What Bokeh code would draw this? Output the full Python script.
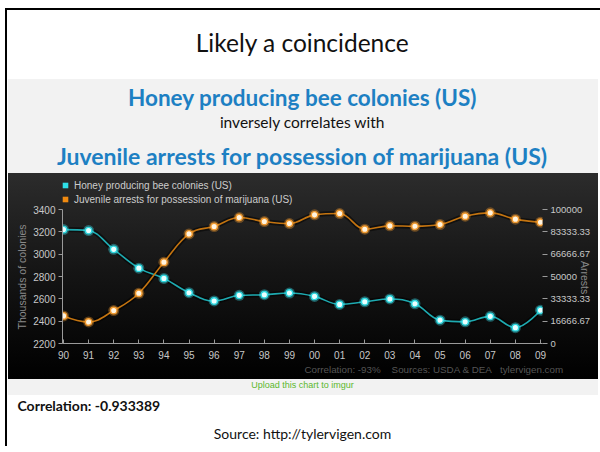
import math
from bokeh.plotting import figure
from bokeh.models import (Range1d, LinearAxis, FixedTicker, ColumnDataSource, Legend,
                          LegendItem, Title)
from bokeh.embed import file_html
from bokeh.resources import INLINE

# ---------------- data ----------------
years = ["90", "91", "92", "93", "94", "95", "96", "97", "98", "99",
         "00", "01", "02", "03", "04", "05", "06", "07", "08", "09"]
honey_colonies = [3220, 3211, 3043, 2875, 2783, 2655, 2581, 2631, 2637, 2652,
                  2622, 2550, 2574, 2599, 2556, 2409, 2394, 2443, 2342, 2498]
juvenile_arrests = [20600, 16100, 24600, 37500, 60700, 81800, 87300, 94000, 91000, 89500,
                    96000, 97000, 85300, 87800, 87500, 88800, 95000, 97500, 92800, 90500]
left_ticks = [2200, 2400, 2600, 2800, 3000, 3200, 3400]
right_ticks = [0, 16666.67, 33333.33, 50000, 66666.67, 83333.33, 100000]
right_tick_labels = ["0", "16666.67", "33333.33", "50000", "66666.67", "83333.33", "100000"]

slide_title = "Likely a coincidence"
chart_title_1 = "Honey producing bee colonies (US)"
chart_title_mid = "inversely correlates with"
chart_title_2 = "Juvenile arrests for possession of marijuana (US)"
left_axis_title = "Thousands of colonies"
right_axis_title = "Arrests"
chart_footer = "Correlation: -93%\u00a0\u00a0\u00a0 Sources: USDA & DEA\u00a0\u00a0 tylervigen.com"
upload_text = "Upload this chart to imgur"
correlation_text = "Correlation: -0.933389"
source_text = "Source: http://tylervigen.com"

CH = "Liberation Sans"
SLIDE = "Lato"


def spline_segments(xs, ys):
    """Highcharts-style spline control points, computed from the data."""
    n = len(xs)
    lcx, lcy, rcx, rcy = list(xs), list(ys), list(xs), list(ys)
    sm = 1.5
    d = sm + 1
    for i in range(1, n - 1):
        px, py = xs[i], ys[i]
        ax, ay = xs[i - 1], ys[i - 1]
        bx, by = xs[i + 1], ys[i + 1]
        l_x, l_y = (sm * px + ax) / d, (sm * py + ay) / d
        r_x, r_y = (sm * px + bx) / d, (sm * py + by) / d
        if r_x != l_x:
            corr = ((r_y - l_y) * (r_x - px)) / (r_x - l_x) + py - r_y
            l_y += corr
            r_y += corr
        if l_y > max(ay, py):
            l_y = max(ay, py); r_y = 2 * py - l_y
        elif l_y < min(ay, py):
            l_y = min(ay, py); r_y = 2 * py - l_y
        if r_y > max(py, by):
            r_y = max(py, by); l_y = 2 * py - r_y
        elif r_y < min(py, by):
            r_y = min(py, by); l_y = 2 * py - r_y
        lcx[i], lcy[i], rcx[i], rcy[i] = l_x, l_y, r_x, r_y
    return dict(x0=xs[:-1], y0=ys[:-1], x1=xs[1:], y1=ys[1:],
                cx0=rcx[:-1], cy0=rcy[:-1], cx1=lcx[1:], cy1=lcy[1:])


# ---------------- figure geometry ----------------
FIG_W, FIG_H = 600, 446
F_LEFT, F_RIGHT, F_TOP, F_BOTTOM = 62, 543, 178, 343   # frame edges in px
AXIS_TOP = 209                                          # px of 3400 / 100000
px_per_unit_l = (F_BOTTOM - AXIS_TOP) / (left_ticks[-1] - left_ticks[0])
px_per_unit_r = (F_BOTTOM - AXIS_TOP) / (right_ticks[-1] - right_ticks[0])
y_top_l = left_ticks[-1] + (AXIS_TOP - F_TOP) / px_per_unit_l
y_top_r = right_ticks[-1] + (AXIS_TOP - F_TOP) / px_per_unit_r

xi = list(range(len(years)))
p = figure(width=FIG_W, height=FIG_H, output_backend="svg", toolbar_location=None,
           x_range=Range1d(-0.04, 19.08), y_range=Range1d(left_ticks[0], y_top_l),
           min_border_left=F_LEFT, min_border_right=FIG_W - F_RIGHT,
           min_border_top=F_TOP, min_border_bottom=FIG_H - F_BOTTOM,
           background_fill_alpha=0, border_fill_alpha=0, outline_line_color=None)
p.title = None
p.styles = {
    "background": ", ".join([
        "linear-gradient(#000000, #000000) 5px 8px / 2px 438px no-repeat",
        "linear-gradient(#000000, #000000) 5px 8px / 595px 2px no-repeat",
        "linear-gradient(to bottom, #2c2c2c 0%, #161616 45%, #000000 100%) 8px 173px / 590px 206px no-repeat",
        "linear-gradient(#f2f2f2, #f2f2f2) 8px 79px / 590px 316px no-repeat",
        "#ffffff",
    ])
}
p.grid.visible = False
p.extra_y_ranges = {"arrests": Range1d(right_ticks[0], y_top_r)}

honey_src = ColumnDataSource(spline_segments(xi, honey_colonies))
arr_src = ColumnDataSource(spline_segments(xi, juvenile_arrests))
pts = ColumnDataSource(dict(x=xi, honey=honey_colonies, arrests=juvenile_arrests))

cyan_line = "#1eaab0"
cyan_glow = "#3ff0ff"
orange_line = "#c47410"
orange_glow = "#ffa12e"

bz = dict(x0="x0", y0="y0", x1="x1", y1="y1", cx0="cx0", cy0="cy0", cx1="cx1", cy1="cy1")
p.bezier(source=honey_src, line_color="black", line_width=5, line_alpha=0.5, **bz)
p.bezier(source=arr_src, line_color="black", line_width=5, line_alpha=0.5,
         y_range_name="arrests", **bz)
p.bezier(source=honey_src, line_color=cyan_line, line_width=1.6, **bz)
p.bezier(source=arr_src, line_color=orange_line, line_width=1.6, y_range_name="arrests", **bz)
p.scatter(x="x", y="honey", source=pts, size=11, fill_color=cyan_glow, fill_alpha=0.35,
          line_color=None)
p.scatter(x="x", y="honey", source=pts, size=6.5, fill_color="#eaffff",
          line_color="#2fd8e0", line_width=1.4)
p.scatter(x="x", y="arrests", source=pts, size=11, fill_color=orange_glow, fill_alpha=0.35,
          line_color=None, y_range_name="arrests")
p.scatter(x="x", y="arrests", source=pts, size=6.5, fill_color="#fff4e0",
          line_color="#f09a30", line_width=1.4, y_range_name="arrests")

# legend (square keys)
lg_h = p.scatter(x="x", y="honey", source=pts, marker="square", fill_color="#2ee0e8",
                 line_color=None, visible=False)
lg_a = p.scatter(x="x", y="arrests", source=pts, marker="square", fill_color="#f08a10",
                 line_color=None, visible=False, y_range_name="arrests")
legend = Legend(items=[LegendItem(label=chart_title_1, renderers=[lg_h]),
                       LegendItem(label=chart_title_2, renderers=[lg_a])],
                location=(-4, F_BOTTOM - 178 - 28), orientation="vertical",
                glyph_width=14, glyph_height=14, label_height=14, label_standoff=2,
                spacing=0, padding=0, margin=0, border_line_alpha=0,
                background_fill_alpha=0, inactive_fill_alpha=0,
                label_text_font=CH, label_text_font_size="10px", label_text_color="#cccccc")
p.add_layout(legend, "center")

# axes
ax_l = p.yaxis[0]
ax_l.ticker = FixedTicker(ticks=left_ticks)
ax_l.bounds = (left_ticks[0], left_ticks[-1])
ax_l.major_tick_out = 4
ax_l.major_tick_in = 0
ax_l.major_label_standoff = 3

ax_b = p.xaxis[0]
ax_b.ticker = FixedTicker(ticks=xi)
ax_b.major_label_overrides = {i: y for i, y in zip(xi, years)}
ax_b.major_tick_in = 4
ax_b.major_tick_out = 0
ax_b.major_label_standoff = 7

ax_r = LinearAxis(y_range_name="arrests", ticker=FixedTicker(ticks=right_ticks),
                  bounds=(right_ticks[0], right_ticks[-1]))
ax_r.major_label_overrides = {t: s for t, s in zip(right_ticks, right_tick_labels)}
ax_r.axis_line_alpha = 0
ax_r.major_tick_out = 5
ax_r.major_tick_in = 0
ax_r.major_label_standoff = 3
# trailing no-break spaces move the centred label down to the middle of the 0-100000 span
ax_r.axis_label = right_axis_title + "\u00a0" * 10
ax_r.axis_label_orientation = -math.pi / 2
ax_r.axis_label_standoff = -8
p.add_layout(ax_r, "right")

for ax in (ax_l, ax_b, ax_r):
    ax.minor_tick_line_color = None
    ax.major_label_text_font = CH
    ax.major_label_text_font_size = "10px"
    ax.major_label_text_color = "#c8c8c8"
    ax.major_tick_line_color = "#9a9a9a"
    ax.axis_label_text_font = CH
    ax.axis_label_text_font_size = "10.5px"
    ax.axis_label_text_font_style = "normal"
    ax.axis_label_text_color = "#8a8a8a"
ax_r.major_label_text_font_size = "9.5px"
ax_l.axis_line_color = "#9a9a9a"
ax_b.axis_line_color = "#9a9a9a"


def title(text, side, font, size, color, style="normal", align="center", offset=0, standoff=0):
    p.add_layout(Title(text=text, align=align, offset=offset, standoff=standoff,
                       text_font=font, text_font_size=size, text_font_style=style,
                       text_color=color), side)


# left axis title, placed along the 2200-3400 span
title(left_axis_title, "left", CH, "10.5px", "#8a8a8a", align="left", offset=14, standoff=6)

# header (added from the frame outwards)
title(chart_title_2, "above", SLIDE, "23px", "#1d80c3", "bold", standoff=18)
title(chart_title_mid, "above", SLIDE, "15.5px", "#111111", standoff=0)
title(chart_title_1, "above", SLIDE, "22.5px", "#1d80c3", "bold", standoff=0)
title(slide_title, "above", SLIDE, "24.5px", "#111111", offset=2, standoff=49)

# footer (added from the frame outwards)
title(chart_footer, "below", CH, "9.8px", "#555555", align="left", offset=242, standoff=1)
title(upload_text, "below", CH, "9px", "#5cb82c", offset=1, standoff=4)
title(correlation_text, "below", SLIDE, "14px", "#111111", "bold", align="left",
      offset=-45, standoff=7)
title(source_text, "below", SLIDE, "14px", "#111111", offset=2, standoff=10)

open("out.html", "w").write(file_html(p, INLINE))
